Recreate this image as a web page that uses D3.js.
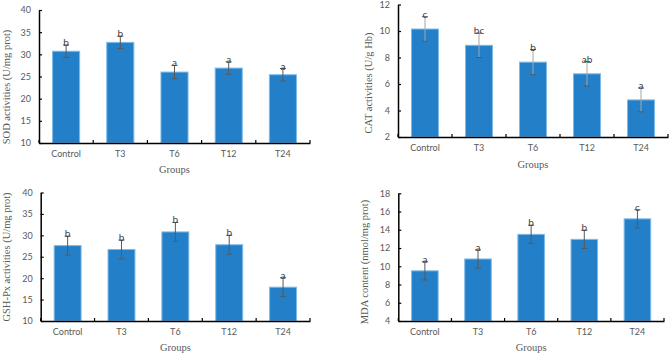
<!DOCTYPE html>
<html>
<head>
<script src="https://d3js.org/d3.v7.min.js"></script>
<style>
  body { margin: 0; background: #fff; }
  .tick text { fill: #595959; font-family: Lato, "Open Sans", sans-serif; font-size: 9px; }
  .ytitle, .xtitle { fill: #595959; font-family: "Liberation Serif", "Times New Roman", serif; font-size: 10.5px; }
  .sig { fill: #404040; font-family: Lato, "Open Sans", sans-serif; font-size: 10px; }
</style>
</head>
<body>
<svg id="chart" width="669" height="354"></svg>
<script>
// groups on the x axis
const groups = ["Control", "T3", "T6", "T12", "T24"];

// SOD activities (U/mg prot)
const sodMean = [30.7, 32.7, 26.0, 26.9, 25.4];
const sodSd   = [1.4, 1.4, 1.5, 1.4, 1.4];
const sodSig  = ["b", "b", "a", "a", "a"];

// CAT activities (U/g Hb)
const catMean = [10.15, 8.92, 7.65, 6.77, 4.8];
const catSd   = [0.93, 0.92, 0.95, 0.92, 0.9];
const catSig  = ["c", "bc", "b", "ab", "a"];

// GSH-Px activities (U/mg prot)
const gshMean = [27.6, 26.7, 30.8, 27.8, 17.9];
const gshSd   = [2.2, 2.2, 2.2, 2.2, 2.2];
const gshSig  = ["b", "b", "b", "b", "a"];

// MDA content (nmol/mg prot)
const mdaMean = [9.5, 10.8, 13.5, 12.95, 15.2];
const mdaSd   = [1.0, 1.0, 1.0, 1.0, 1.0];
const mdaSig  = ["a", "a", "b", "b", "c"];

const svg = d3.select("#chart");

const panels = [
  { title: "SOD activities (U/mg prot)", mean: sodMean, sd: sodSd, sig: sodSig,
    domain: [10, 40], step: 5, left: 39, right: 310, top: 10, bottom: 143,
    titleX: 6, titleY: 87, groupsDy: 27 },
  { title: "CAT activities (U/g Hb)", mean: catMean, sd: catSd, sig: catSig,
    domain: [2, 12], step: 2, left: 398, right: 668, top: 4.5, bottom: 137,
    titleX: 368, titleY: 83, groupsDy: 28, errColor: "#a6a6a6" },
  { title: "GSH-Px activities (U/mg prot)", mean: gshMean, sd: gshSd, sig: gshSig,
    domain: [10, 40], step: 5, left: 40.7, right: 310, top: 192.5, bottom: 321,
    titleX: 6, titleY: 257, groupsDy: 27 },
  { title: "MDA content (nmol/mg prot)", mean: mdaMean, sd: mdaSd, sig: mdaSig,
    domain: [4, 18], step: 2, left: 398.3, right: 664, top: 193.3, bottom: 321,
    titleX: 364, titleY: 262, groupsDy: 27 }
];

panels.forEach(p => {
  const g = svg.append("g");

  const x = d3.scaleBand()
              .domain(groups)
              .range([p.left, p.right])
              .paddingInner(0.5)
              .paddingOuter(0.25);
  const y = d3.scaleLinear()
              .domain(p.domain)
              .range([p.bottom, p.top]);

  // bars
  g.selectAll("rect.bar")
   .data(groups)
   .join("rect")
   .attr("x", d => x(d))
   .attr("width", x.bandwidth())
   .attr("y", (d, i) => y(p.mean[i]))
   .attr("height", (d, i) => p.bottom - y(p.mean[i]))
   .attr("fill", "#2380c8")
   .attr("stroke", "#7fbbe8")
   .attr("stroke-width", 1);

  // error bars
  const errColor = p.errColor || "#595959";
  const cx = d => x(d) + x.bandwidth() / 2;
  const eb = g.selectAll("g.err")
              .data(groups)
              .join("g")
              .attr("stroke", errColor)
              .attr("stroke-width", 1);
  eb.append("line")
    .attr("x1", cx).attr("x2", cx)
    .attr("y1", (d, i) => y(p.mean[i] - p.sd[i]))
    .attr("y2", (d, i) => y(p.mean[i] + p.sd[i]));
  [-1, 1].forEach(s => {
    eb.append("line")
      .attr("x1", d => cx(d) - 3).attr("x2", d => cx(d) + 3)
      .attr("y1", (d, i) => y(p.mean[i] + s * p.sd[i]))
      .attr("y2", (d, i) => y(p.mean[i] + s * p.sd[i]))
      .attr("stroke", "#595959");
  });

  // significance letters
  g.selectAll("text.sig")
   .data(groups)
   .join("text")
   .attr("class", "sig")
   .attr("x", cx)
   .attr("y", (d, i) => y(p.mean[i] + p.sd[i]) + 1)
   .attr("text-anchor", "middle")
   .text((d, i) => p.sig[i]);

  // y axis, ticks pointing inward
  const ticks = d3.range(p.domain[0], p.domain[1] + 0.001, p.step);
  const yAxis = g.append("g")
                 .attr("transform", `translate(${p.left},0)`)
                 .call(d3.axisLeft(y).tickValues(ticks).tickSize(-3).tickSizeOuter(0).tickPadding(8));
  yAxis.select(".domain").attr("stroke", "#000").attr("stroke-width", 1.5);
  yAxis.selectAll(".tick line").attr("stroke", "#000").attr("stroke-width", 1.2);

  // x axis
  const xAxis = g.append("g")
                 .attr("transform", `translate(0,${p.bottom})`)
                 .call(d3.axisBottom(x).tickSize(0).tickPadding(8).tickSizeOuter(0));
  xAxis.select(".domain").attr("stroke", "#000").attr("stroke-width", 1.5);
  xAxis.selectAll(".tick text").attr("dy", "0.71em");

  // category boundary ticks
  g.selectAll("line.bound")
   .data(d3.range(groups.length + 1))
   .join("line")
   .attr("x1", i => p.left + i * x.step())
   .attr("x2", i => p.left + i * x.step())
   .attr("y1", p.bottom - 3)
   .attr("y2", p.bottom)
   .attr("stroke", "#000")
   .attr("stroke-width", 1.2);

  // titles
  g.append("text")
   .attr("class", "xtitle")
   .attr("x", (p.left + p.right) / 2)
   .attr("y", p.bottom + p.groupsDy + 3)
   .attr("text-anchor", "middle")
   .text("Groups");

  g.append("text")
   .attr("class", "ytitle")
   .attr("transform", `translate(${p.titleX + 3.5},${p.titleY}) rotate(-90)`)
   .attr("text-anchor", "middle")
   .text(p.title);
});
</script>
</body>
</html>
